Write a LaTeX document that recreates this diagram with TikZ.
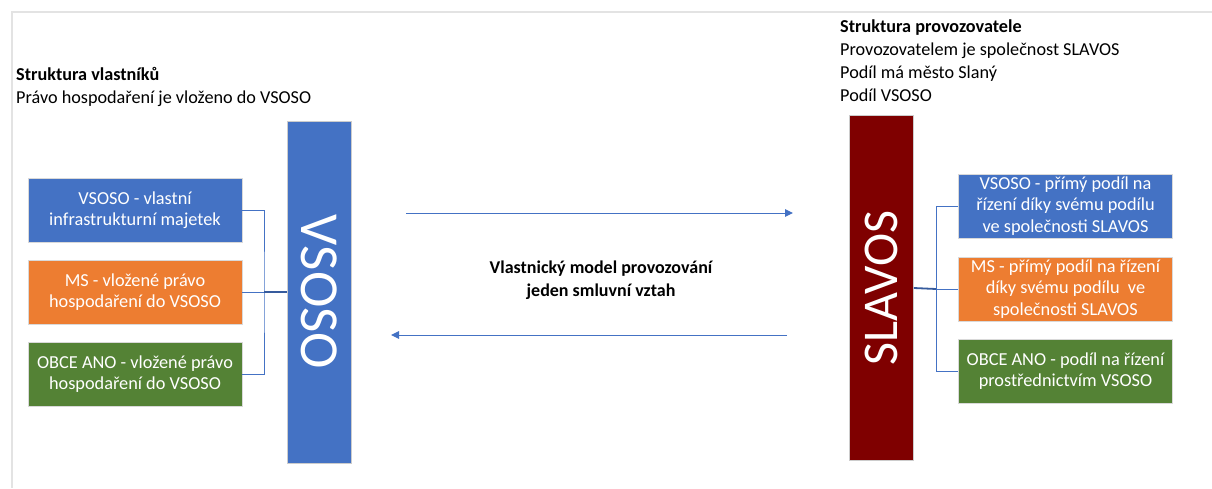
\documentclass[tikz,border=0pt]{standalone}
\usepackage{fontspec}
\setmainfont{Carlito}
\usetikzlibrary{arrows.meta}
\definecolor{cblue}{HTML}{4472C4}
\definecolor{corange}{HTML}{ED7D31}
\definecolor{cgreen}{HTML}{548235}
\definecolor{cred}{HTML}{7F0000}
\definecolor{cframe}{HTML}{E3E3E3}
\tikzset{
  box/.style={minimum width=214pt, minimum height=64pt, inner sep=0pt, text=white,
    align=center, draw=white!85!black, line width=0.6pt,
    font=\fontsize{18.3}{21.5}\selectfont},
  bar/.style={minimum width=64pt, inner sep=0pt, text=white, draw=white!80!black, line width=0.6pt},
  ttl/.style={anchor=base west, inner sep=0pt, font=\fontsize{18.2}{20}\selectfont},
  ctr/.style={anchor=base, inner sep=0pt, font=\bfseries\fontsize{18}{20}\selectfont},
  link/.style={draw=cblue, line width=1pt},
  midlink/.style={draw=cblue!80!black, line width=1.8pt},
  arr/.style={draw=cblue, line width=1pt, -{Triangle[length=8pt,width=7.5pt]}},
}
\begin{document}
\begin{tikzpicture}[x=1pt,y=-1pt]
\useasboundingbox (0,0) rectangle (1212,488);
\draw[cframe, line width=2pt] (12,488) -- (12,12) -- (1212,12);

% titles
\node[ttl] (t1) at (16,80) {\bfseries Struktura vlastníků};
\node[ttl] (t2) at (16,103) {Právo hospodaření je vloženo do VSOSO};
\node[ttl] (r1) at (840,32) {\bfseries Struktura provozovatele};
\node[ttl] (r2) at (840,55) {Provozovatelem je společnost SLAVOS};
\node[ttl] (r3) at (840,78) {Podíl má město Slaný};
\node[ttl] (r4) at (840,101) {Podíl VSOSO};

% bars
\node[bar, fill=cblue, minimum height=342pt] (vsoso) at (319,292)
  {\rotatebox{-90}{\fontsize{55}{60}\selectfont VSOSO}};
\node[bar, fill=cred, minimum height=345pt] (slavos) at (881.5,288)
  {\rotatebox{90}{\fontsize{50}{60}\selectfont SLAVOS}};

% left boxes
\node[box, fill=cblue] (lb1) at (135,210) {VSOSO - vlastní\\infrastrukturní majetek};
\node[box, fill=corange] (lb2) at (135,292) {MS - vložené právo\\hospodaření do VSOSO};
\node[box, fill=cgreen] (lb3) at (135,374) {OBCE ANO - vložené právo\\hospodaření do VSOSO};

% right boxes
\node[box, fill=cblue] (rb1) at (1065.5,206) {VSOSO - přímý podíl na\\řízení díky svému podílu\\ve společnosti SLAVOS};
\node[box, fill=corange] (rb2) at (1065.5,289) {MS - přímý podíl na řízení\\díky svému podílu\ \ ve\\společnosti SLAVOS};
\node[box, fill=cgreen] (rb3) at (1065.5,371) {OBCE ANO - podíl na řízení\\prostřednictvím VSOSO};

% brackets
\coordinate (jl) at (264,292);
\coordinate (jr) at (936,289);
\draw[link] (lb1.east) -| (jl) |- (lb3.east);
\draw[link] (lb2.east) -- (jl);
\draw[midlink] (jl) -- (vsoso.west);
\draw[link] (rb1.west) -| (jr) |- (rb3.west);
\draw[link] (rb2.west) -- (jr);
\draw[midlink] (jr) -- (slavos.east);

% arrows
\coordinate (a1s) at (406,213);
\coordinate (a1e) at (793,213);
\coordinate (a2s) at (787,335);
\coordinate (a2e) at (391,335);
\draw[arr] (a1s) -- (a1e);
\draw[arr] (a2s) -- (a2e);

% centre text
\node[ctr] (c1) at (601,273) {Vlastnický model provozování};
\node[ctr] (c2) at (601,296) {jeden smluvní vztah};
\end{tikzpicture}
\end{document}
